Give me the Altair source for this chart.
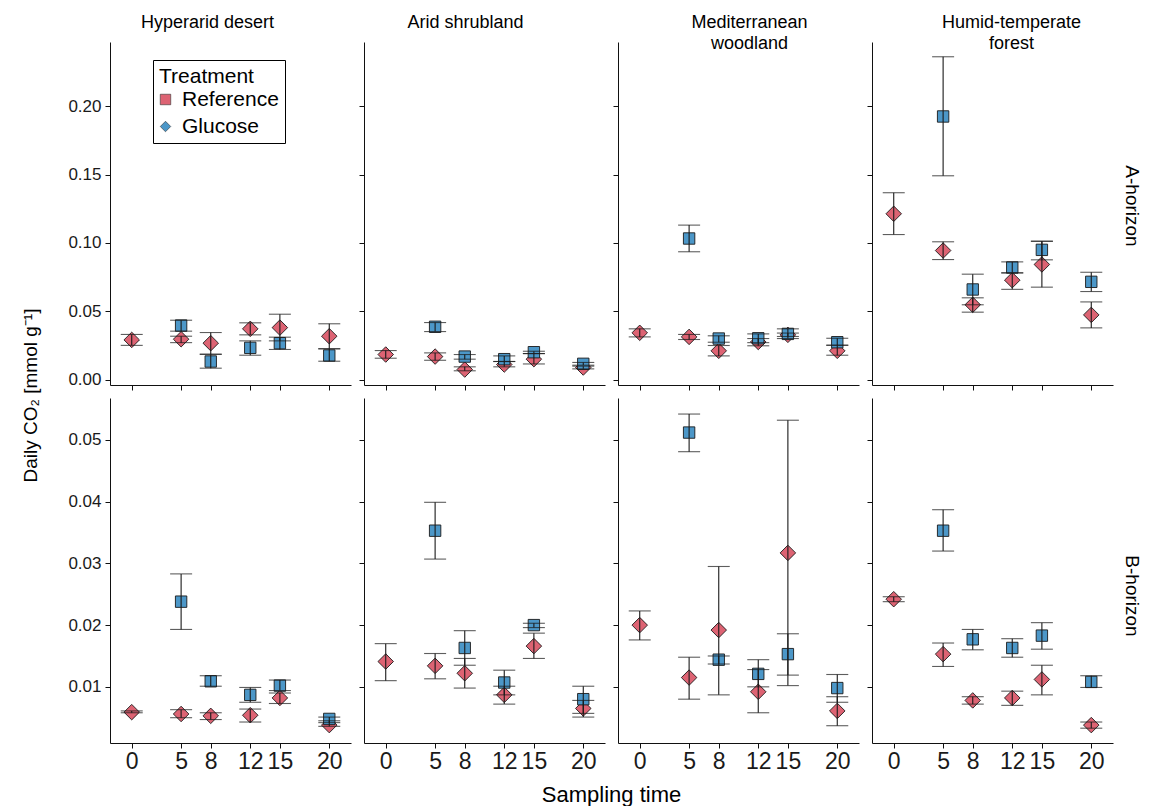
import altair as alt
import pandas as pd

FONT = "Liberation Sans"
RED = "#DD6373"
BLUE = "#4C97C8"

TIMES = [0, 5, 8, 12, 15, 20]
SITES = ["Hyperarid desert", "Arid shrubland", "Mediterranean woodland", "Humid-temperate forest"]
SITE_TITLES = [["Hyperarid desert", " "], ["Arid shrubland", " "],
               ["Mediterranean", "woodland"], ["Humid-temperate", "forest"]]
TITLE_DX = [-23, -19, 11, 19]
HORIZONS = ["A-horizon", "B-horizon"]
TREATMENTS = ["Reference", "Glucose"]

# ---------------- A-horizon ----------------
a_hyper_ref = [0.0290, 0.0295, 0.0266, 0.0371, 0.0380, 0.0317]
a_hyper_ref_lo = [0.0250, 0.0270, 0.0185, 0.0327, 0.0283, 0.0225]
a_hyper_ref_hi = [0.0330, 0.0317, 0.0344, 0.0415, 0.0478, 0.0408]
a_hyper_glu = [None, 0.0395, 0.0132, 0.0232, 0.0266, 0.0176]
a_hyper_glu_lo = [None, 0.0354, 0.0083, 0.0178, 0.0220, 0.0134]
a_hyper_glu_hi = [None, 0.0434, 0.0185, 0.0283, 0.0310, 0.0225]

a_arid_ref = [0.0183, 0.0168, 0.0073, 0.0110, 0.0149, 0.0088]
a_arid_ref_lo = [0.0156, 0.0141, 0.0064, 0.0093, 0.0114, 0.0078]
a_arid_ref_hi = [0.0212, 0.0195, 0.0093, 0.0132, 0.0190, 0.0098]
a_arid_glu = [None, 0.0386, 0.0168, 0.0149, 0.0200, 0.0115]
a_arid_glu_lo = [None, 0.0351, 0.0149, 0.0132, 0.0190, 0.0105]
a_arid_glu_hi = [None, 0.0417, 0.0183, 0.0173, 0.0207, 0.0125]

a_med_ref = [0.0342, 0.0312, 0.0210, 0.0275, 0.0327, 0.0210]
a_med_ref_lo = [0.0312, 0.0293, 0.0173, 0.0247, 0.0315, 0.0178]
a_med_ref_hi = [0.0371, 0.0330, 0.0249, 0.0300, 0.0340, 0.0251]
a_med_glu = [None, 0.1032, 0.0300, 0.0302, 0.0334, 0.0273]
a_med_glu_lo = [None, 0.0935, 0.0273, 0.0270, 0.0300, 0.0251]
a_med_glu_hi = [None, 0.1130, 0.0320, 0.0334, 0.0371, 0.0302]

a_humid_ref = [0.1213, 0.0944, 0.0547, 0.0727, 0.0842, 0.0473]
a_humid_ref_lo = [0.1061, 0.0878, 0.0493, 0.0660, 0.0676, 0.0378]
a_humid_ref_hi = [0.1367, 0.1008, 0.0598, 0.0780, 0.1012, 0.0568]
a_humid_glu = [None, 0.1925, 0.0659, 0.0820, 0.0949, 0.0715]
a_humid_glu_lo = [None, 0.1491, 0.0547, 0.0781, 0.0876, 0.0644]
a_humid_glu_hi = [None, 0.2362, 0.0771, 0.0861, 0.1012, 0.0785]

# ---------------- B-horizon ----------------
b_hyper_ref = [0.0059, 0.0056, 0.0053, 0.0054, 0.0082, 0.0038]
b_hyper_ref_lo = [0.0058, 0.0050, 0.0047, 0.0043, 0.0073, 0.0036]
b_hyper_ref_hi = [0.0061, 0.0063, 0.0058, 0.0064, 0.0090, 0.0045]
b_hyper_glu = [None, 0.0238, 0.0109, 0.0087, 0.0102, 0.0048]
b_hyper_glu_lo = [None, 0.0193, 0.0101, 0.0075, 0.0094, 0.0042]
b_hyper_glu_hi = [None, 0.0283, 0.0118, 0.0099, 0.0111, 0.0051]

b_arid_ref = [0.0141, 0.0134, 0.0122, 0.0087, 0.0166, 0.0065]
b_arid_ref_lo = [0.0110, 0.0113, 0.0098, 0.0072, 0.0146, 0.0051]
b_arid_ref_hi = [0.0170, 0.0154, 0.0146, 0.0101, 0.0187, 0.0078]
b_arid_glu = [None, 0.0353, 0.0163, 0.0107, 0.0200, 0.0080]
b_arid_glu_lo = [None, 0.0307, 0.0135, 0.0087, 0.0196, 0.0057]
b_arid_glu_hi = [None, 0.0399, 0.0191, 0.0127, 0.0203, 0.0101]

b_med_ref = [0.0200, 0.0115, 0.0192, 0.0092, 0.0317, 0.0061]
b_med_ref_lo = [0.0176, 0.0080, 0.0087, 0.0058, 0.0102, 0.0037]
b_med_ref_hi = [0.0223, 0.0148, 0.0295, 0.0128, 0.0532, 0.0084]
b_med_glu = [None, 0.0512, 0.0144, 0.0121, 0.0153, 0.0098]
b_med_glu_lo = [None, 0.0481, 0.0137, 0.0100, 0.0119, 0.0075]
b_med_glu_hi = [None, 0.0542, 0.0150, 0.0144, 0.0186, 0.0120]

b_humid_ref = [0.0242, 0.0153, 0.0078, 0.0082, 0.0112, 0.0038]
b_humid_ref_lo = [0.0238, 0.0133, 0.0072, 0.0070, 0.0087, 0.0033]
b_humid_ref_hi = [0.0246, 0.0171, 0.0084, 0.0093, 0.0135, 0.0043]
b_humid_glu = [None, 0.0353, 0.0177, 0.0163, 0.0183, 0.0108]
b_humid_glu_lo = [None, 0.0320, 0.0160, 0.0148, 0.0161, 0.0099]
b_humid_glu_hi = [None, 0.0387, 0.0193, 0.0178, 0.0204, 0.0118]

SERIES = {
    ("A-horizon", 0): (a_hyper_ref, a_hyper_ref_lo, a_hyper_ref_hi, a_hyper_glu, a_hyper_glu_lo, a_hyper_glu_hi),
    ("A-horizon", 1): (a_arid_ref, a_arid_ref_lo, a_arid_ref_hi, a_arid_glu, a_arid_glu_lo, a_arid_glu_hi),
    ("A-horizon", 2): (a_med_ref, a_med_ref_lo, a_med_ref_hi, a_med_glu, a_med_glu_lo, a_med_glu_hi),
    ("A-horizon", 3): (a_humid_ref, a_humid_ref_lo, a_humid_ref_hi, a_humid_glu, a_humid_glu_lo, a_humid_glu_hi),
    ("B-horizon", 0): (b_hyper_ref, b_hyper_ref_lo, b_hyper_ref_hi, b_hyper_glu, b_hyper_glu_lo, b_hyper_glu_hi),
    ("B-horizon", 1): (b_arid_ref, b_arid_ref_lo, b_arid_ref_hi, b_arid_glu, b_arid_glu_lo, b_arid_glu_hi),
    ("B-horizon", 2): (b_med_ref, b_med_ref_lo, b_med_ref_hi, b_med_glu, b_med_glu_lo, b_med_glu_hi),
    ("B-horizon", 3): (b_humid_ref, b_humid_ref_lo, b_humid_ref_hi, b_humid_glu, b_humid_glu_lo, b_humid_glu_hi),
}

Y_DOMAINS = {"A-horizon": [-0.004, 0.247], "B-horizon": [0.0009, 0.0568]}
Y_TICKS = {"A-horizon": [0.0, 0.05, 0.10, 0.15, 0.20], "B-horizon": [0.01, 0.02, 0.03, 0.04, 0.05]}
HEIGHTS = {"A-horizon": 343, "B-horizon": 345}
LABEL_Y = {"A-horizon": 164, "B-horizon": 198}
W = 241


def frame(hz, si):
    r, rl, rh, g, gl, gh = SERIES[(hz, si)]
    rows = []
    for i, t in enumerate(TIMES):
        rows.append({"time": t, "treatment": "Reference", "mean": r[i], "lo": rl[i], "hi": rh[i]})
        if g[i] is not None:
            rows.append({"time": t, "treatment": "Glucose", "mean": g[i], "lo": gl[i], "hi": gh[i]})
    return pd.DataFrame(rows)


def panel(ri, hz, si):
    df = frame(hz, si)
    H = HEIGHTS[hz]

    xaxis_kw = dict(values=TIMES, labels=(ri == 1), labelFontSize=23, labelPadding=2,
                    tickSize=5, grid=False, labelFlush=False)
    if ri == 1 and si == 1:
        xaxis_kw.update(title="Sampling time", titleX=W + 6, titleY=51, titleAngle=0,
                        titleAlign="center", titleBaseline="middle", titleFontSize=22,
                        titleFontWeight="normal")
    else:
        xaxis_kw.update(title="")
    xenc = alt.X("time:Q", scale=alt.Scale(domain=[-2.2, 22.2], nice=False, zero=False),
                 axis=alt.Axis(**xaxis_kw))

    yaxis_kw = dict(values=Y_TICKS[hz], format=".2f", labels=(si == 0), labelFontSize=17,
                    labelPadding=4, tickSize=5, grid=False)
    if ri == 0 and si == 0:
        yaxis_kw.update(title="Daily CO₂ [mmol g⁻¹]", titleX=-80, titleY=353, titleAngle=270,
                        titleAlign="center", titleBaseline="middle", titleFontSize=19,
                        titleFontWeight="normal")
    else:
        yaxis_kw.update(title="")
    yscale = alt.Scale(domain=Y_DOMAINS[hz], nice=False, zero=False)
    yax = alt.Axis(**yaxis_kw)

    def yenc(f):
        return alt.Y(f, scale=yscale, axis=yax)

    base = alt.Chart(df)
    ref = base.transform_filter(alt.datum.treatment == "Reference")
    glu = base.transform_filter(alt.datum.treatment == "Glucose")

    pts_ref = ref.mark_point(filled=True, shape="diamond", size=240, fill=RED, stroke="#1a1a1a",
                             strokeWidth=0.9, opacity=1).encode(x=xenc, y=yenc("mean:Q"))
    pts_glu = glu.mark_point(filled=True, shape="square", size=130, fill=BLUE, stroke="#1a1a1a",
                             strokeWidth=0.9, opacity=1).encode(x=xenc, y=yenc("mean:Q"))
    rule = base.mark_rule(color="#1a1a1a", strokeWidth=1.1).encode(
        x=xenc, y=yenc("lo:Q"), y2=alt.Y2("hi:Q"))
    cap_lo = base.mark_tick(orient="horizontal", size=22, thickness=1.1, color="#1a1a1a").encode(
        x=xenc, y=yenc("lo:Q"))
    cap_hi = base.mark_tick(orient="horizontal", size=22, thickness=1.1, color="#1a1a1a").encode(
        x=xenc, y=yenc("hi:Q"))

    layers = [pts_ref, pts_glu, rule, cap_lo, cap_hi]

    if ri == 0 and si == 0:
        leg = alt.Legend(title="Treatment", orient="none", legendX=43, legendY=18,
                         fillColor="white", strokeColor="black", padding=6,
                         titleFontSize=21, labelFontSize=21, titleFont=FONT, labelFont=FONT,
                         titleFontWeight="normal", titleColor="#000", labelColor="#000",
                         symbolSize=110, rowPadding=5, titlePadding=2, labelOffset=6,
                         symbolOffset=-4,
                         symbolStrokeWidth=0.6, symbolStrokeColor="#333")
        legend_layer = base.transform_filter("false").mark_point(
            filled=True, size=110, opacity=1).encode(
            x=xenc, y=yenc("mean:Q"),
            color=alt.Color("treatment:N", scale=alt.Scale(domain=TREATMENTS, range=[RED, BLUE]), legend=leg),
            shape=alt.Shape("treatment:N", scale=alt.Scale(domain=TREATMENTS, range=["square", "diamond"]), legend=leg),
        )
        layers.append(legend_layer)

    if si == 3:
        lab = alt.Chart(pd.DataFrame({"label": [hz]})).mark_text(
            angle=90, fontSize=19, font=FONT, align="center", baseline="middle", color="#000"
        ).encode(text="label:N", x=alt.value(W + 19), y=alt.value(LABEL_Y[hz]))
        layers.append(lab)

    props = dict(width=W, height=H)
    if ri == 0:
        props["title"] = alt.TitleParams(text=SITE_TITLES[si], fontSize=18, font=FONT,
                                         fontWeight="normal", color="#000", anchor="middle",
                                         offset=-11, lineHeight=21, dx=TITLE_DX[si])
    return alt.layer(*layers).properties(**props)


panels = []
for ri, hz in enumerate(HORIZONS):
    for si in range(4):
        panels.append(panel(ri, hz, si))

chart = alt.concat(*panels, columns=4, spacing=13, bounds="flush").resolve_scale(
    x="independent", y="independent", color="independent", shape="independent"
).properties(
    padding={"left": 12, "top": 5, "right": 0, "bottom": 0}, background="white"
).configure_view(
    stroke="transparent"
).configure_axis(
    domainColor="#111", tickColor="#111", labelColor="#1a1a1a", titleColor="#000",
    labelFont=FONT, titleFont=FONT, domainWidth=1, tickWidth=1
)

chart.save("out.html", embed_options={"renderer": "svg", "actions": False})
